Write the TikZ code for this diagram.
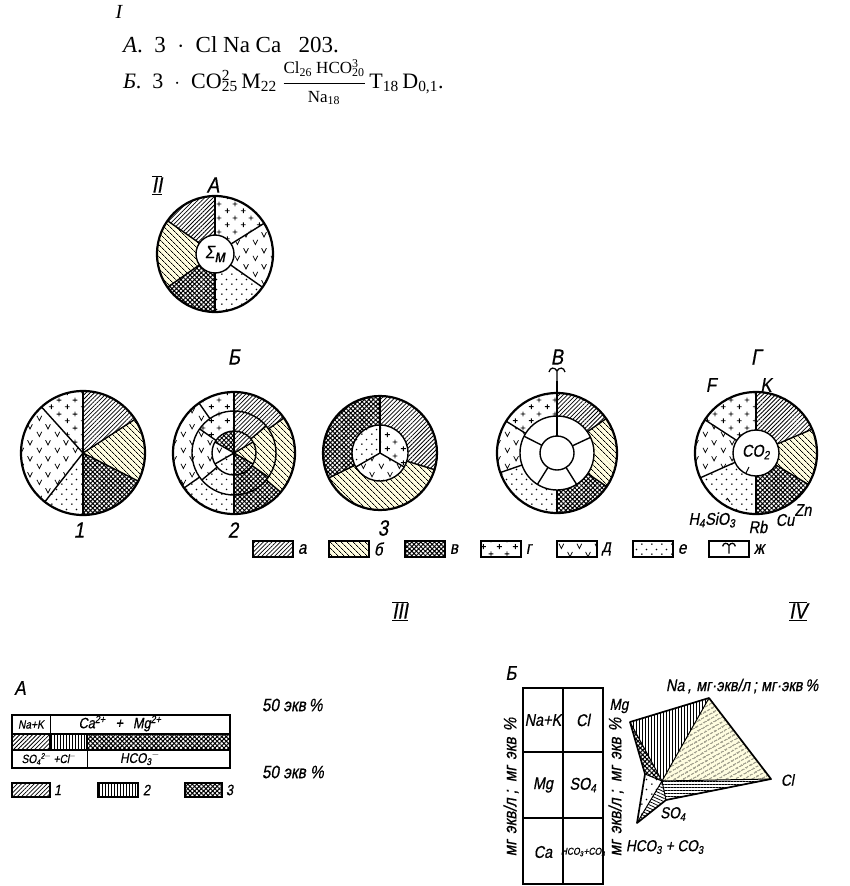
\documentclass[tikz,border=0pt]{standalone}
\usepackage{fontspec}
\setmainfont{Liberation Serif}
\newfontfamily\gost[FakeSlant=0.18,FakeStretch=0.85,FakeBold=0.6]{Liberation Sans}
\usetikzlibrary{patterns,patterns.meta}
\pgfdeclarepatternformonly{plusses}{\pgfqpoint{0pt}{0pt}}{\pgfqpoint{16pt}{14pt}}{\pgfqpoint{16pt}{14pt}}{%
 \pgfsetlinewidth{0.9pt}%
 \pgfpathmoveto{\pgfqpoint{1pt}{3.5pt}}\pgfpathlineto{\pgfqpoint{6pt}{3.5pt}}%
 \pgfpathmoveto{\pgfqpoint{3.5pt}{1pt}}\pgfpathlineto{\pgfqpoint{3.5pt}{6pt}}%
 \pgfpathmoveto{\pgfqpoint{9pt}{10.5pt}}\pgfpathlineto{\pgfqpoint{14pt}{10.5pt}}%
 \pgfpathmoveto{\pgfqpoint{11.5pt}{8pt}}\pgfpathlineto{\pgfqpoint{11.5pt}{13pt}}%
 \pgfusepath{stroke}}
\pgfdeclarepatternformonly{vees}{\pgfqpoint{0pt}{0pt}}{\pgfqpoint{18pt}{16pt}}{\pgfqpoint{18pt}{16pt}}{%
 \pgfsetlinewidth{0.8pt}%
 \pgfpathmoveto{\pgfqpoint{1pt}{6.5pt}}\pgfpathlineto{\pgfqpoint{3.5pt}{1.5pt}}\pgfpathlineto{\pgfqpoint{6pt}{6.5pt}}%
 \pgfpathmoveto{\pgfqpoint{10pt}{14.5pt}}\pgfpathlineto{\pgfqpoint{12.5pt}{9.5pt}}\pgfpathlineto{\pgfqpoint{15pt}{14.5pt}}%
 \pgfusepath{stroke}}
\pgfdeclarepatternformonly{sdots}{\pgfqpoint{0pt}{0pt}}{\pgfqpoint{10pt}{10pt}}{\pgfqpoint{10pt}{10pt}}{%
 \pgfpathcircle{\pgfqpoint{2pt}{2pt}}{0.9pt}\pgfpathcircle{\pgfqpoint{7pt}{7pt}}{0.9pt}\pgfusepath{fill}}
\newcommand\Psec[4]{\path[#1] (0,0) -- (#2:#4) arc[start angle=#2,end angle=#3,radius=#4] -- cycle;}
\newcommand\Rsec[5]{\path[#1] (#2:#4) arc[start angle=#2,end angle=#3,radius=#4] -- (#3:#5) arc[start angle=#3,end angle=#2,radius=#5] -- cycle;}
\newcommand\Spk[3]{\draw[sl] (#1:#2) -- (#1:#3);}
\begin{document}
\begin{tikzpicture}[x=1pt,y=1pt,
  every node/.style={inner sep=0pt, outer sep=0pt},
  ol/.style={line width=2.2pt},
  sl/.style={line width=1.4pt},
  gl/.style={font=\gost\fontsize{#1}{#1}\selectfont},
  pa/.style={pattern={Lines[angle=45,distance=3pt,line width=0.8pt]}},
  pb/.style={preaction={fill=yellow!12}, pattern={Lines[angle=-45,distance=4pt,line width=0.8pt]}},
  pv/.style={pattern={Hatch[angle=45,distance=3.2pt,line width=1pt]}},
  pg/.style={pattern=plusses},
  pd/.style={pattern=vees},
  pe/.style={pattern=sdots},
  pvert/.style={pattern={Lines[angle=90,distance=3pt,line width=0.8pt]}},
  zh/.pic={\draw[line width=1.3pt] (0,-7) -- (0,3) (0,3) .. controls (-2,7) and (-7,7) .. (-8,2) (0,3) .. controls (2,7) and (7,7) .. (8,2);}
]
\useasboundingbox (0,0) rectangle (850,-886);

% ---------- I ----------
\node[anchor=base, font=\fontsize{20}{24}\selectfont\itshape] (tI) at (119,-19) {I};
\node[anchor=base west, font=\fontsize{23}{27}\selectfont] (tA) at (123,-52)
  {\textit{A}.\enspace3\enspace$\cdot$\enspace Cl Na Ca\enspace\ 203.};
\node[anchor=base west, font=\fontsize{22}{26}\selectfont] (tB) at (123,-88)
  {\textit{Б}.\enspace3\enspace$\cdot$\enspace CO\rlap{\textsuperscript{2}}\textsubscript{25}\,M\textsubscript{22}\ $\displaystyle\frac{\mbox{\fontsize{17}{20}\selectfont Cl\textsubscript{26} HCO\rlap{\textsuperscript{3}}\textsubscript{20}}}{\mbox{\fontsize{17}{20}\selectfont Na\textsubscript{18}}}$\,T\textsubscript{18}\,D\textsubscript{0,1}.};

% ---------- II ----------
\node[gl=22] (tII) at (157,-185) {$\overline{\underline{\hbox{II}}}$};
\node[gl=22] (tIIA) at (213,-185) {A};

% circle A
\begin{scope}[shift={(215,-254)}]
 \Rsec{pa}{90}{145}{58}{19}
 \Rsec{pb}{145}{215}{58}{19}
 \Rsec{pv}{215}{270}{58}{19}
 \Rsec{pe}{270}{325}{58}{19}
 \Rsec{pd}{325}{392}{58}{19}
 \Rsec{pg}{32}{90}{58}{19}
 \foreach \a in {90,145,215,270,325,32} {\Spk{\a}{19}{58}}
 \draw[ol] (0,0) circle[radius=58];
 \draw[sl] (0,0) circle[radius=19];
 \node[gl=18] (sigA) at (0,0) {Σ\raisebox{-4pt}{м}};
\end{scope}

\node[gl=22] (tBB) at (234,-357) {Б};
\node[gl=22] (tBV) at (557,-357) {В};
\node[gl=22] (tBG) at (756,-357) {Г};

% circle 1
\begin{scope}[shift={(83,-453)}]
 \Psec{pa}{33}{90}{62}
 \Psec{pb}{-27}{33}{62}
 \Psec{pv}{-90}{-27}{62}
 \Psec{pe}{-128}{-90}{62}
 \Psec{pd}{132}{232}{62}
 \Psec{pg}{90}{132}{62}
 \foreach \a in {90,270,33,-27,-128,132} {\Spk{\a}{0}{62}}
 \draw[ol] (0,0) circle[radius=62];
\end{scope}
\node[gl=22] (n1) at (79,-530) {1};

% circle 2
\begin{scope}[shift={(234,-453)}]
 \Rsec{pa}{35}{90}{61}{42}
 \Rsec{pb}{-40}{35}{61}{42}
 \Rsec{pv}{-90}{-40}{61}{42}
 \Rsec{pe}{215}{270}{61}{42}
 \Rsec{pd}{125}{215}{61}{42}
 \Rsec{pg}{90}{125}{61}{42}
 \Rsec{pa}{40}{90}{42}{22}
 \Rsec{pb}{-35}{40}{42}{22}
 \Rsec{pv}{-90}{-35}{42}{22}
 \Rsec{pe}{220}{270}{42}{22}
 \Rsec{pd}{145}{220}{42}{22}
 \Rsec{pg}{90}{145}{42}{22}
 \Psec{pa}{30}{90}{22}
 \Psec{pb}{-30}{30}{22}
 \Psec{pv}{-90}{-30}{22}
 \Psec{pe}{210}{270}{22}
 \Psec{pd}{150}{210}{22}
 \Psec{pv}{90}{150}{22}
 \foreach \a in {35,-40,215,125} {\Spk{\a}{42}{61}}
 \foreach \a in {40,-35,220,145} {\Spk{\a}{22}{42}}
 \foreach \a in {30,-30,210,150} {\Spk{\a}{0}{22}}
 \draw[sl] (0,61) -- (0,-61);
 \draw[sl] (0,0) circle[radius=42];
 \draw[sl] (0,0) circle[radius=22];
 \draw[ol] (0,0) circle[radius=61];
\end{scope}
\node[gl=22] (n2) at (233,-530) {2};

% circle 3
\begin{scope}[shift={(380,-453)}]
 \Rsec{pv}{90}{206}{57}{28}
 \Rsec{pb}{206}{343}{57}{28}
 \Rsec{pa}{-17}{90}{57}{28}
 \Psec{pe}{90}{210}{28}
 \Psec{pd}{210}{330}{28}
 \Psec{pg}{-30}{90}{28}
 \foreach \a in {90,206,343} {\Spk{\a}{28}{57}}
 \foreach \a in {90,210,330} {\Spk{\a}{0}{28}}
 \draw[sl] (0,0) circle[radius=28];
 \draw[ol] (0,0) circle[radius=57];
\end{scope}
\node[gl=22] (n3) at (383,-528) {3};

% circle V
\begin{scope}[shift={(557,-453)}]
 \Rsec{pg}{90}{148}{60}{37}
 \Rsec{pd}{148}{199}{60}{37}
 \Rsec{pe}{199}{270}{60}{37}
 \Rsec{pv}{270}{326}{60}{37}
 \Rsec{pb}{-34}{35}{60}{37}
 \Rsec{pa}{35}{90}{60}{37}
 \foreach \a in {90,148,199,270,326,35} {\Spk{\a}{37}{60}}
 \foreach \a in {90,153,238,302,25} {\Spk{\a}{17}{37}}
 \draw[sl] (0,0) circle[radius=37];
 \draw[sl] (0,0) circle[radius=17];
 \draw[ol] (0,0) circle[radius=60];
 \draw[line width=1.3pt] (0,60) -- (0,72);
 \pic at (0,79) {zh};
\end{scope}

% circle G
\begin{scope}[shift={(756,-453)}]
 \Rsec{pg}{90}{147}{61}{23}
 \Rsec{pd}{147}{204}{61}{23}
 \Rsec{pe}{204}{270}{61}{23}
 \Rsec{pv}{270}{329}{61}{23}
 \Rsec{pb}{-31}{23}{61}{23}
 \Rsec{pa}{23}{90}{61}{23}
 \foreach \a in {90,147,204,270,329,23} {\Spk{\a}{23}{61}}
 \draw[sl] (0,0) circle[radius=23];
 \draw[ol] (0,0) circle[radius=61];
 \node[gl=17] (co2) at (0,1) {CO\textsubscript{2}};
 \draw[line width=1pt] (-7,-14) -- (-10,-20);
 \draw[line width=1pt] (-26,-49) -- (-29,-45);
\end{scope}
\node[gl=20] (lF) at (711,-385) {F};
\node[gl=20] (lK) at (766,-385) {K};
\node[gl=17] (lH) at (712,-520) {H\textsubscript{4}SiO\textsubscript{3}};
\node[gl=17] (lRb) at (758,-527) {Rb};
\node[gl=17] (lCu) at (785,-520) {Cu};
\node[gl=17] (lZn) at (803,-510) {Zn};

% legend
\path[pa] (253,-541) rectangle (293,-557); \draw[line width=1.2pt] (253,-541) rectangle (293,-557);
\node[gl=18,anchor=west] (la) at (298,-549) {а};
\path[pb] (329,-541) rectangle (369,-557); \draw[line width=1.2pt] (329,-541) rectangle (369,-557);
\node[gl=18,anchor=west] (lb) at (374,-549) {б};
\path[pv] (405,-541) rectangle (445,-557); \draw[line width=1.2pt] (405,-541) rectangle (445,-557);
\node[gl=18,anchor=west] (lv) at (450,-549) {в};
\path[pg] (481,-541) rectangle (521,-557); \draw[line width=1.2pt] (481,-541) rectangle (521,-557);
\node[gl=18,anchor=west] (lg) at (526,-549) {г};
\path[pd] (557,-541) rectangle (597,-557); \draw[line width=1.2pt] (557,-541) rectangle (597,-557);
\node[gl=18,anchor=west] (ld) at (602,-549) {д};
\path[pe] (633,-541) rectangle (673,-557); \draw[line width=1.2pt] (633,-541) rectangle (673,-557);
\node[gl=18,anchor=west] (le) at (678,-549) {е};
\draw[line width=1.2pt] (709,-541) rectangle (749,-557);
\pic[scale=0.8] at (729,-548) {zh};
\node[gl=18,anchor=west] (lzh) at (754,-549) {ж};

% ---------- III ----------
\node[gl=22] (tIII) at (400,-611) {$\overline{\underline{\hbox{III}}}$};
\node[gl=22] (tIV) at (798,-611) {$\overline{\underline{\hbox{IV}}}$};

% III A
\node[gl=20] (tIIIA) at (20,-688) {A};
\path[pa] (12,-734) rectangle (50,-750);
\path[pvert] (50,-734) rectangle (87,-750);
\path[pv] (87,-734) rectangle (230,-750);
\draw[line width=1.6pt] (12,-715) rectangle (230,-768);
\draw[line width=1.2pt] (12,-734) -- (230,-734) (12,-750) -- (230,-750)
  (50,-734) -- (50,-750) (87,-734) -- (87,-750);
\draw[line width=0.8pt] (50,-716) -- (50,-733) (87,-751) -- (87,-767);
\node[gl=12] (cNaK) at (31,-724.5) {Na+K};
\node[gl=15] (cCaMg) at (120,-723.5) {Ca\textsuperscript{2+}\hspace{10pt}+\hspace{10pt}Mg\textsuperscript{2+}};
\node[gl=12] (cSO4) at (49,-759) {SO\textsubscript{4}\textsuperscript{2$-$}\,+Cl\textsuperscript{$-$}};
\node[gl=14] (cHCO) at (140,-758.5) {HCO\textsubscript{3}\textsuperscript{$-$}};
\node[gl=18,anchor=west] (p50a) at (262,-705) {50 экв\,\%};
\node[gl=18,anchor=west] (p50b) at (262,-772) {50 экв \%};
\path[pa] (12,-783) rectangle (50,-797); \draw[line width=1.2pt] (12,-783) rectangle (50,-797);
\node[gl=15,anchor=west] (l1) at (54,-790) {1};
\path[pvert] (98,-783) rectangle (138,-797); \draw[line width=1.2pt] (98,-783) rectangle (138,-797);
\node[gl=15,anchor=west] (l2) at (143,-790) {2};
\path[pv] (185,-783) rectangle (222,-797); \draw[line width=1.2pt] (185,-783) rectangle (222,-797);
\node[gl=15,anchor=west] (l3) at (226,-790) {3};

% III B
\node[gl=20] (tIIIB) at (511,-673) {Б};
\draw[line width=1.8pt] (523,-688) rectangle (603,-884);
\draw[line width=1.3pt] (523,-752) -- (603,-752) (523,-818) -- (603,-818) (563,-688) -- (563,-884);
\node[gl=17] (tNaK) at (543,-720) {Na+K};
\node[gl=17] (tCl) at (583,-720) {Cl};
\node[gl=17] (tMg) at (543,-785) {Mg};
\node[gl=17] (tSO) at (583,-785) {SO\textsubscript{4}};
\node[gl=17] (tCa) at (543,-852) {Ca};
\node[gl=10] (tHC) at (583,-852) {HCO\textsubscript{3}+CO\textsubscript{3}};
\node[gl=18,rotate=90] (rotL) at (511,-787) {мг\hspace{6pt}экв/л\hspace{4pt};\hspace{8pt}мг\hspace{6pt}экв\hspace{6pt}\%};
\node[gl=18,rotate=90] (rotR) at (616,-787) {мг\hspace{6pt}экв/л\hspace{4pt};\hspace{8pt}мг\hspace{6pt}экв\hspace{6pt}\%};

% ---------- IV ----------
\coordinate (Mg) at (630,-722);
\coordinate (Na) at (709,-698);
\coordinate (Cl) at (771,-779);
\coordinate (S) at (666,-800);
\coordinate (H) at (637,-823);
\coordinate (L) at (645,-774);
\coordinate (C) at (662,-781);
\path[pvert] (Mg) -- (Na) -- (C) -- cycle;
\path[preaction={fill=yellow!12}, pattern={Lines[angle=30,distance=4pt,line width=0.8pt]}] (Na) -- (Cl) -- (C) -- cycle;
\path[pattern={Lines[angle=0,distance=3pt,line width=0.8pt]}] (Cl) -- (S) -- (C) -- cycle;
\path[pattern={Lines[angle=-25,distance=3pt,line width=0.8pt]}] (S) -- (H) -- (C) -- cycle;
\path[pe] (H) -- (L) -- (C) -- cycle;
\path[pv] (L) -- (Mg) -- (C) -- cycle;
\draw[line width=1pt] (C) -- (Mg) (C) -- (Na) (C) -- (Cl) (C) -- (S) (C) -- (H) (C) -- (L);
\draw[line width=1.7pt, line join=round] (Mg) -- (Na) -- (Cl) -- (S) -- (H) -- (L) -- cycle;
\node[gl=17,anchor=west] (lNa) at (666,-686) {Na\,,\hspace{5pt}мг·экв/л\hspace{3pt};\hspace{4pt}мг·экв\,\%};
\node[gl=16] (lMg) at (619,-706) {Mg};
\node[gl=16,anchor=west] (lCl) at (781,-780) {Cl};
\node[gl=16] (lSO) at (673,-814) {SO\textsubscript{4}};
\node[gl=16,anchor=west] (lHC) at (626,-847) {HCO\textsubscript{3} + CO\textsubscript{3}};
\end{tikzpicture}
\end{document}
